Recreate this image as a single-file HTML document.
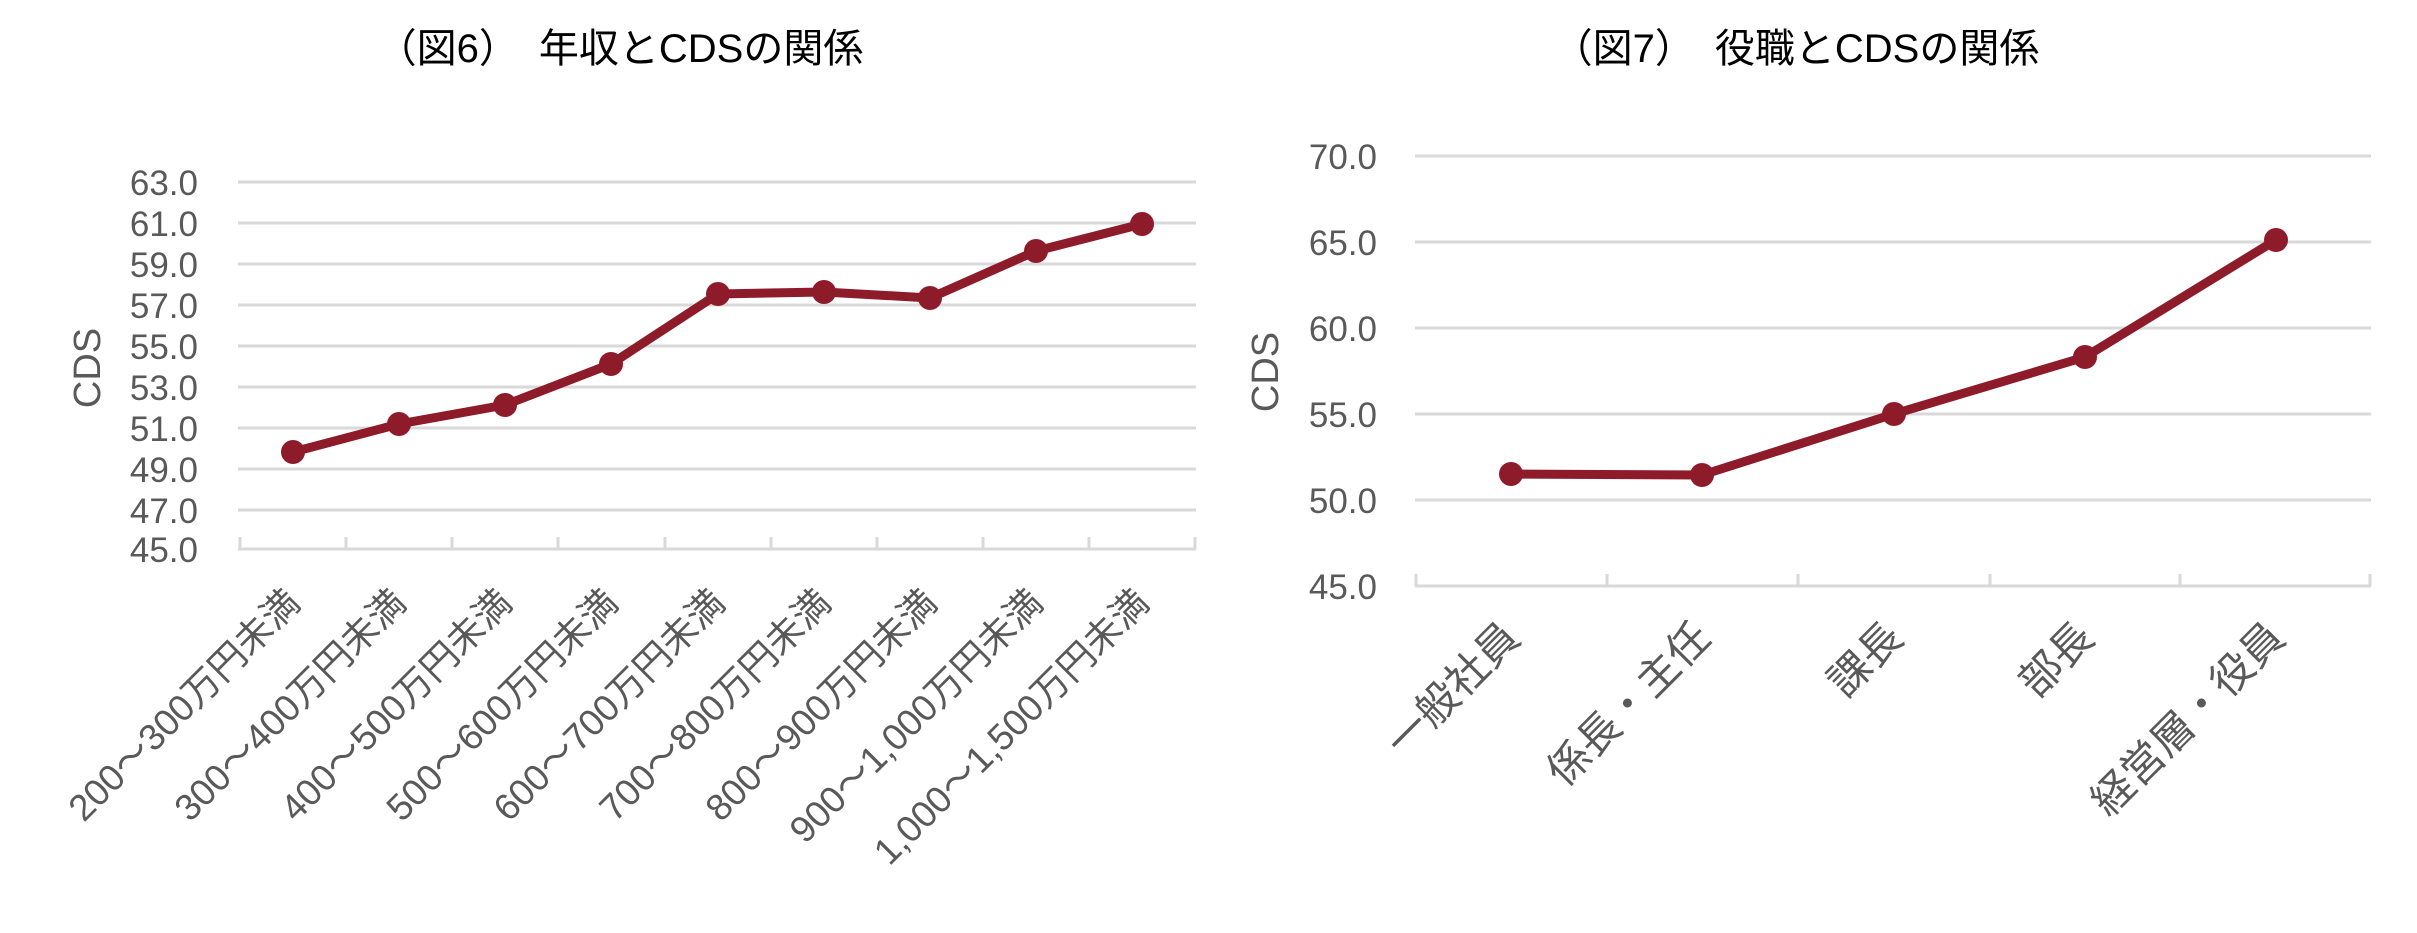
<!DOCTYPE html>
<html><head><meta charset="utf-8"><style>
html,body{margin:0;padding:0;background:#fff;}
svg{display:block;}
text{font-family:"Liberation Sans","Noto Sans CJK JP",sans-serif;fill:#595959;}
</style></head><body>
<svg width="2417" height="933" viewBox="0 0 2417 933" xmlns="http://www.w3.org/2000/svg">
<!-- Chart 1 -->
<text x="620" y="62" font-size="40" text-anchor="middle" style="fill:#000">（図6）　年収とCDSの関係</text>
<g stroke="#d9d9d9" stroke-width="3">
<line x1="238" x2="1196" y1="182" y2="182"/>
<line x1="238" x2="1196" y1="223" y2="223"/>
<line x1="238" x2="1196" y1="264" y2="264"/>
<line x1="238" x2="1196" y1="305" y2="305"/>
<line x1="238" x2="1196" y1="346" y2="346"/>
<line x1="238" x2="1196" y1="387" y2="387"/>
<line x1="238" x2="1196" y1="428" y2="428"/>
<line x1="238" x2="1196" y1="469" y2="469"/>
<line x1="238" x2="1196" y1="510" y2="510"/>
<line x1="238" x2="1196" y1="549" y2="549"/>
<g>
<line x1="240" x2="240" y1="537" y2="549"/><line x1="346" x2="346" y1="537" y2="549"/><line x1="452" x2="452" y1="537" y2="549"/><line x1="558" x2="558" y1="537" y2="549"/><line x1="665" x2="665" y1="537" y2="549"/><line x1="771" x2="771" y1="537" y2="549"/><line x1="877" x2="877" y1="537" y2="549"/><line x1="983" x2="983" y1="537" y2="549"/><line x1="1089" x2="1089" y1="537" y2="549"/><line x1="1195" x2="1195" y1="537" y2="549"/>
</g></g>
<g font-size="35" text-anchor="end">
<text x="198" y="195">63.0</text><text x="198" y="236">61.0</text><text x="198" y="277">59.0</text><text x="198" y="318">57.0</text><text x="198" y="359">55.0</text><text x="198" y="400">53.0</text><text x="198" y="441">51.0</text><text x="198" y="482">49.0</text><text x="198" y="523">47.0</text><text x="198" y="562">45.0</text>
</g>
<text transform="translate(100,368) rotate(-90)" font-size="38" text-anchor="middle">CDS</text>
<polyline fill="none" stroke="#8e1b2a" stroke-width="9" stroke-linejoin="round" points="293,452 399,424 505,405 611,364 718,294 824,292 930,298 1036,251 1142,224"/>
<g fill="#8e1b2a">
<circle cx="293" cy="452" r="12"/><circle cx="399" cy="424" r="12"/><circle cx="505" cy="405" r="12"/><circle cx="611" cy="364" r="12"/><circle cx="718" cy="294" r="12"/><circle cx="824" cy="292" r="12"/><circle cx="930" cy="298" r="12"/><circle cx="1036" cy="251" r="12"/><circle cx="1142" cy="224" r="12"/>
</g>
<g font-size="37" text-anchor="end">
<text transform="translate(302,605) rotate(-45)">200～300万円未満</text>
<text transform="translate(408,605) rotate(-45)">300～400万円未満</text>
<text transform="translate(514,605) rotate(-45)">400～500万円未満</text>
<text transform="translate(620,605) rotate(-45)">500～600万円未満</text>
<text transform="translate(727,605) rotate(-45)">600～700万円未満</text>
<text transform="translate(833,605) rotate(-45)">700～800万円未満</text>
<text transform="translate(939,605) rotate(-45)">800～900万円未満</text>
<text transform="translate(1045,605) rotate(-45)">900～1,000万円未満</text>
<text transform="translate(1151,605) rotate(-45)">1,000～1,500万円未満</text>
</g>
<!-- Chart 2 -->
<text x="1796" y="62" font-size="40" text-anchor="middle" style="fill:#000">（図7）　役職とCDSの関係</text>
<g stroke="#d9d9d9" stroke-width="3">
<line x1="1415" x2="2371" y1="156" y2="156"/>
<line x1="1415" x2="2371" y1="242" y2="242"/>
<line x1="1415" x2="2371" y1="328" y2="328"/>
<line x1="1415" x2="2371" y1="414" y2="414"/>
<line x1="1415" x2="2371" y1="500" y2="500"/>
<line x1="1415" x2="2371" y1="586" y2="586"/>
<line x1="1416" x2="1416" y1="574" y2="586"/><line x1="1607" x2="1607" y1="574" y2="586"/><line x1="1798" x2="1798" y1="574" y2="586"/><line x1="1990" x2="1990" y1="574" y2="586"/><line x1="2180" x2="2180" y1="574" y2="586"/><line x1="2370" x2="2370" y1="574" y2="586"/>
</g>
<g font-size="35" text-anchor="end">
<text x="1377" y="169">70.0</text><text x="1377" y="255">65.0</text><text x="1377" y="341">60.0</text><text x="1377" y="427">55.0</text><text x="1377" y="513">50.0</text><text x="1377" y="599">45.0</text>
</g>
<text transform="translate(1278,372) rotate(-90)" font-size="38" text-anchor="middle">CDS</text>
<polyline fill="none" stroke="#8e1b2a" stroke-width="9" stroke-linejoin="round" points="1511,474 1702,475 1894,414 2085,357 2276,240"/>
<g fill="#8e1b2a">
<circle cx="1511" cy="474" r="12"/><circle cx="1702" cy="475" r="12"/><circle cx="1894" cy="414" r="12"/><circle cx="2085" cy="357" r="12"/><circle cx="2276" cy="240" r="12"/>
</g>
<g font-size="42" text-anchor="end">
<text transform="translate(1522,640) rotate(-45)">一般社員</text>
<text transform="translate(1713,640) rotate(-45)">係長・主任</text>
<text transform="translate(1905,640) rotate(-45)">課長</text>
<text transform="translate(2096,640) rotate(-45)">部長</text>
<text transform="translate(2287,640) rotate(-45)">経営層・役員</text>
</g>
</svg>
</body></html>
